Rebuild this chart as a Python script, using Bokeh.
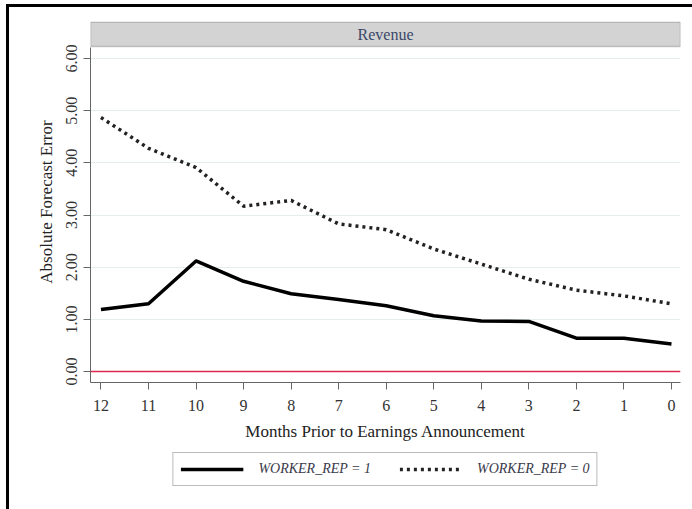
from bokeh.plotting import figure
from bokeh.models import (Range1d, Span, Legend, LegendItem, Label, FixedTicker,
                          NumeralTickFormatter, ColumnDataSource, BoxAnnotation)
from bokeh.layouts import column
from bokeh.embed import file_html
from bokeh.resources import INLINE

# ---- data ----
months = [12, 11, 10, 9, 8, 7, 6, 5, 4, 3, 2, 1, 0]
worker_rep_1 = [1.19, 1.30, 2.12, 1.73, 1.49, 1.38, 1.26, 1.07, 0.97, 0.96, 0.64, 0.64, 0.53]
worker_rep_0 = [4.87, 4.28, 3.91, 3.17, 3.28, 2.83, 2.72, 2.35, 2.06, 1.77, 1.56, 1.45, 1.30]
y_ticks = [0, 1, 2, 3, 4, 5, 6]
panel_title = "Revenue"
x_title = "Months Prior to Earnings Announcement"
y_title = "Absolute Forecast Error"
labels = ["WORKER_REP = 1", "WORKER_REP = 0"]

FONT = "Liberation Serif"
TXT = "#333333"

X_LO, X_HI = 12.22, -0.19
Y_LO, Y_PLOT_TOP, STRIP_BOT, Y_HI = -0.21, 6.215, 6.23, 6.71
W = 683

p = figure(width=W, height=444, output_backend="svg", toolbar_location=None,
           x_range=Range1d(X_LO, X_HI), y_range=Range1d(Y_LO, Y_HI))
p.min_border = 0
p.min_border_left = 90
p.min_border_right = 3
p.min_border_top = 21
p.min_border_bottom = 62
p.outline_line_color = None

# facet strip
p.add_layout(BoxAnnotation(bottom=STRIP_BOT, top=Y_HI - 0.01, fill_color="#d3d3d3",
                           fill_alpha=1, line_color="#5a5a5a", line_width=1.5, level="underlay"))
p.add_layout(Label(x=(X_LO + X_HI) / 2, y=(STRIP_BOT + Y_HI) / 2, text=panel_title,
                   text_align="center", text_baseline="middle", text_font=FONT,
                   text_font_size="16px", text_color="#3a4868"))

src = ColumnDataSource(dict(m=months, a=worker_rep_1, b=worker_rep_0))
solid_style = dict(line_color="black", line_width=3.5, line_join="round")
dot_style = dict(line_color="#222222", line_width=3.5, line_dash="3 4", line_cap="butt")
p.line("m", "a", source=src, **solid_style)
p.line("m", "b", source=src, **dot_style)

p.add_layout(Span(location=0, dimension="width", line_color="#dc2850", line_width=1.5))

# axes
p.xaxis.ticker = FixedTicker(ticks=months)
p.yaxis.ticker = FixedTicker(ticks=y_ticks)
p.yaxis.formatter = NumeralTickFormatter(format="0.00")
p.yaxis.bounds = (Y_LO, Y_PLOT_TOP)
for ax in (p.xaxis[0], p.yaxis[0]):
    ax.axis_line_color = "#666666"
    ax.major_tick_line_color = "#666666"
    ax.minor_tick_line_color = None
    ax.major_tick_in = 0
    ax.major_tick_out = 7
    ax.major_label_text_font = FONT
    ax.major_label_text_font_size = "16px"
    ax.major_label_text_color = TXT
    ax.axis_label_text_font = FONT
    ax.axis_label_text_font_size = "17px"
    ax.axis_label_text_font_style = "normal"
    ax.axis_label_text_color = "#222222"
p.xaxis.axis_label = x_title
p.yaxis.axis_label = y_title
p.yaxis.major_label_orientation = "vertical"
p.xaxis.major_label_standoff = 10
p.xaxis.axis_label_standoff = 8
p.yaxis.major_label_standoff = 6
p.yaxis.axis_label_standoff = 8

p.xgrid.visible = False
p.ygrid.grid_line_color = "#e4eeec"
p.ygrid.grid_line_width = 1
p.ygrid.ticker = FixedTicker(ticks=y_ticks)

# ---- legend strip below the plot ----
lg = figure(width=W, height=52, output_backend="svg", toolbar_location=None,
            x_range=Range1d(X_LO, X_HI), y_range=Range1d(100, 101))
lg.min_border = 0
lg.min_border_left = 90
lg.min_border_right = 3
lg.outline_line_color = None
lg.xaxis.visible = False
lg.yaxis.visible = False
lg.grid.visible = False
l1 = lg.line("m", "a", source=src, **solid_style)
l0 = lg.line("m", "b", source=src, **dot_style)

legend = Legend(items=[LegendItem(label=labels[0], renderers=[l1]),
                       LegendItem(label=labels[1], renderers=[l0])],
                orientation="horizontal", location="top_center")
legend.label_text_font = FONT
legend.label_text_font_style = "italic"
legend.label_text_font_size = "14px"
legend.label_text_color = "#3a3a4a"
legend.glyph_width = 63
legend.glyph_height = 18
legend.label_standoff = 15
legend.spacing = 28
legend.padding = 7
legend.margin = 8
legend.border_line_color = "#777777"
legend.border_line_width = 1.5
lg.add_layout(legend, "center")

layout = column(p, lg, spacing=0)

html = file_html(layout, INLINE)
frame_css = ("<style>body::before{content:'';position:fixed;left:6px;top:4px;"
             "width:800px;height:700px;border-left:3px solid black;"
             "border-top:3px solid black;pointer-events:none;z-index:10;}</style>")
html = html.replace("</head>", frame_css + "</head>", 1)
open("out.html", "w").write(html)
